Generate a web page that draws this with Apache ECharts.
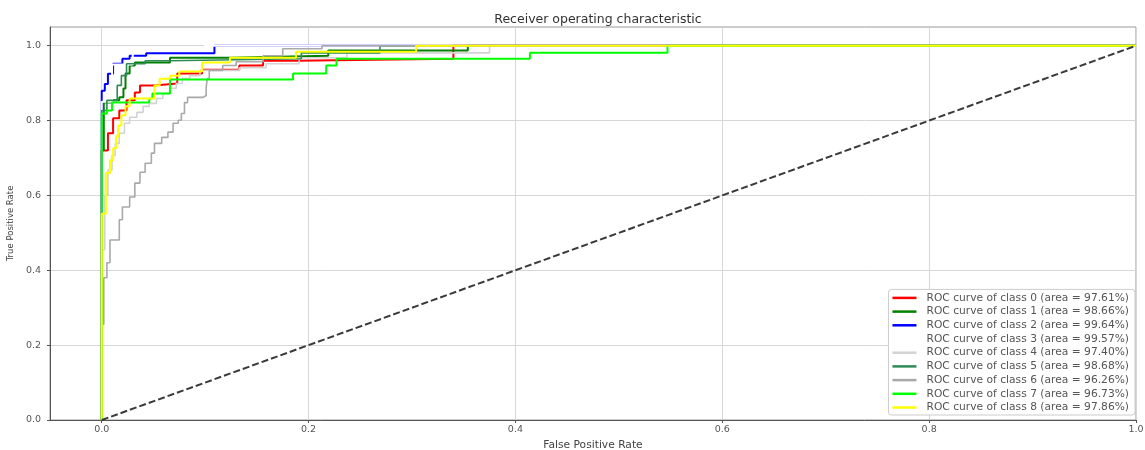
<!DOCTYPE html>
<html>
<head>
<meta charset="utf-8">
<script src="https://cdn.jsdelivr.net/npm/echarts@6/dist/echarts.min.js"></script>
<style>
html,body{margin:0;padding:0;background:#fff;}
#chart{width:1145px;height:450px;}
</style>
</head>
<body>
<div id="chart"></div>
<script>
// Tick labels
var xTicks = [0.0, 0.2, 0.4, 0.6, 0.8, 1.0];
var yTicks = [0.0, 0.2, 0.4, 0.6, 0.8, 1.0];

// Class names and areas
var classNames = ['0','1','2','3','4','5','6','7','8'];
var areas = ['97.61','98.66','99.64','99.57','97.40','98.68','96.26','96.73','97.86'];

// ROC curves: [FPR, TPR] corner points (step after each horizontal run)
var roc0 = [[0,0],[0,0.72],[0.006,0.766],[0.011,0.806],[0.017,0.827],[0.024,0.854],[0.032,0.875],[0.037,0.894],[0.051,0.899],[0.073,0.926],[0.097,0.936],[0.133,0.947],[0.156,0.96],[0.188,0.965],[0.34,1],[1,1]];
var roc1 = [[0,0],[0,0.721],[0.002,0.848],[0.01,0.854],[0.017,0.862],[0.021,0.886],[0.023,0.926],[0.027,0.947],[0.032,0.955],[0.066,0.968],[0.124,0.973],[0.219,0.987],[0.354,1],[1,1]];
var roc2 = [[0,0],[0,0.88],[0.003,0.898],[0.006,0.925],[0.011,0.952],[0.02,0.965],[0.027,0.973],[0.043,0.98],[0.109,1],[1,1]];
var roc3 = [[0,0],[0,0.85],[0.01,0.95],[0.03,0.99],[0.1,1],[1,1]];
var roc4 = [[0,0],[0,0.455],[0.003,0.601],[0.006,0.668],[0.01,0.707],[0.013,0.739],[0.017,0.766],[0.022,0.793],[0.027,0.809],[0.034,0.822],[0.04,0.838],[0.046,0.846],[0.053,0.859],[0.059,0.872],[0.066,0.886],[0.072,0.899],[0.078,0.912],[0.085,0.92],[0.095,0.934],[0.133,0.941],[0.159,0.952],[0.191,0.968],[0.237,0.981],[0.375,1],[1,1]];
var roc5 = [[0,0],[0,0.827],[0.005,0.854],[0.015,0.894],[0.019,0.92],[0.024,0.952],[0.042,0.96],[0.066,0.965],[0.193,0.981],[0.269,1],[1,1]];
var roc6 = [[0,0],[0,0.255],[0.002,0.38],[0.005,0.42],[0.008,0.481],[0.017,0.535],[0.02,0.569],[0.027,0.596],[0.032,0.633],[0.037,0.662],[0.042,0.686],[0.048,0.713],[0.051,0.739],[0.058,0.755],[0.064,0.769],[0.069,0.793],[0.074,0.801],[0.077,0.819],[0.08,0.848],[0.083,0.862],[0.098,0.867],[0.101,0.888],[0.102,0.912],[0.104,0.934],[0.117,0.947],[0.13,0.957],[0.156,0.973],[0.175,0.992],[0.213,1],[1,1]];
var roc7 = [[0,0],[0,0.819],[0.005,0.827],[0.01,0.848],[0.046,0.859],[0.049,0.872],[0.066,0.91],[0.185,0.926],[0.217,0.947],[0.227,0.965],[0.414,0.981],[0.547,1],[1,1]];
var roc8 = [[0,0],[0,0.551],[0.004,0.66],[0.008,0.694],[0.011,0.726],[0.014,0.758],[0.016,0.787],[0.019,0.814],[0.023,0.838],[0.027,0.859],[0.051,0.894],[0.056,0.912],[0.066,0.92],[0.075,0.931],[0.097,0.955],[0.124,0.968],[0.188,0.984],[0.304,1],[1,1]];
var chance = [[0,0],[1,1]];

var curves = [roc0, roc1, roc2, roc3, roc4, roc5, roc6, roc7, roc8];
var colors = ['#ff0000','#008000','#0000ff','#ffffff','#d3d3d3','#2e8b57','#a9a9a9','#00ff00','#ffff00'];
var widths = [2, 2, 2, 2, 1.6, 1.6, 1.6, 2, 2];

var FONT = 'DejaVu Sans';
var series = [];
var legendData = [];
for (var i = 0; i < curves.length; i++) {
  var nm = 'ROC curve of class ' + classNames[i] + ' (area = ' + areas[i] + '%)';
  legendData.push({name: nm, icon: 'rect'});
  series.push({
    name: nm, type: 'line', data: curves[i], step: 'end',
    showSymbol: false, symbol: 'none', animation: false,
    color: colors[i],
    lineStyle: {color: colors[i], width: widths[i]},
    z: 2 + i
  });
}
series.push({
  name: 'chance', type: 'line', data: chance, showSymbol: false, symbol: 'none',
  animation: false, lineStyle: {color: '#3a3a3a', width: 2, type: [7, 3]}, z: 20
});

var chart = echarts.init(document.getElementById('chart'), null, {renderer: 'canvas'});
chart.setOption({
  backgroundColor: '#fff',
  animation: false,
  title: {
    text: 'Receiver operating characteristic', left: 593, top: 8, textAlign: 'center',
    textStyle: {fontFamily: FONT, fontSize: 12.5, fontWeight: 'normal', color: '#333'}
  },
  grid: {left: 50, right: 9, top: 27, bottom: 30, show: true, borderColor: '#999', borderWidth: 1,
    containLabel: false, outerBoundsMode: 'none'},
  legend: {
    orient: 'vertical', right: 10, bottom: 35, data: legendData,
    itemWidth: 24, itemHeight: 2.5, itemGap: 2.7,
    backgroundColor: '#fff', borderColor: '#ccc', borderWidth: 1, borderRadius: 3,
    padding: [3, 6, 2, 4],
    textStyle: {fontFamily: FONT, fontSize: 10.7, color: '#555', padding: [0, 0, 0, 5]}
  },
  xAxis: {
    type: 'value', min: -0.05, max: 1.0,
    name: 'False Positive Rate', nameLocation: 'middle', nameGap: 19,
    nameTextStyle: {fontFamily: FONT, fontSize: 10.7, color: '#444'},
    axisLine: {show: true, onZero: false, lineStyle: {color: '#555', width: 1}},
    axisTick: {show: true, length: 3, customValues: xTicks, lineStyle: {color: '#555'}},
    axisLabel: {customValues: xTicks, fontFamily: FONT, fontSize: 9.5, color: '#555', margin: 5,
      formatter: function (v) { return v.toFixed(1); }},
    splitLine: {show: true, lineStyle: {color: '#d6d6d6', width: 1}}
  },
  yAxis: {
    type: 'value', min: 0, max: 1.05,
    name: 'True Positive Rate', nameLocation: 'middle', nameGap: 34,
    nameTextStyle: {fontFamily: FONT, fontSize: 8.5, color: '#444'},
    axisLine: {show: true, onZero: false, lineStyle: {color: '#555', width: 1}},
    axisTick: {show: true, length: 3, customValues: yTicks, lineStyle: {color: '#555'}},
    axisLabel: {customValues: yTicks, fontFamily: FONT, fontSize: 9.5, color: '#555', margin: 9,
      formatter: function (v) { return v.toFixed(1); }},
    splitLine: {show: true, lineStyle: {color: '#d6d6d6', width: 1}}
  },
  series: series
});
</script>
</body>
</html>
